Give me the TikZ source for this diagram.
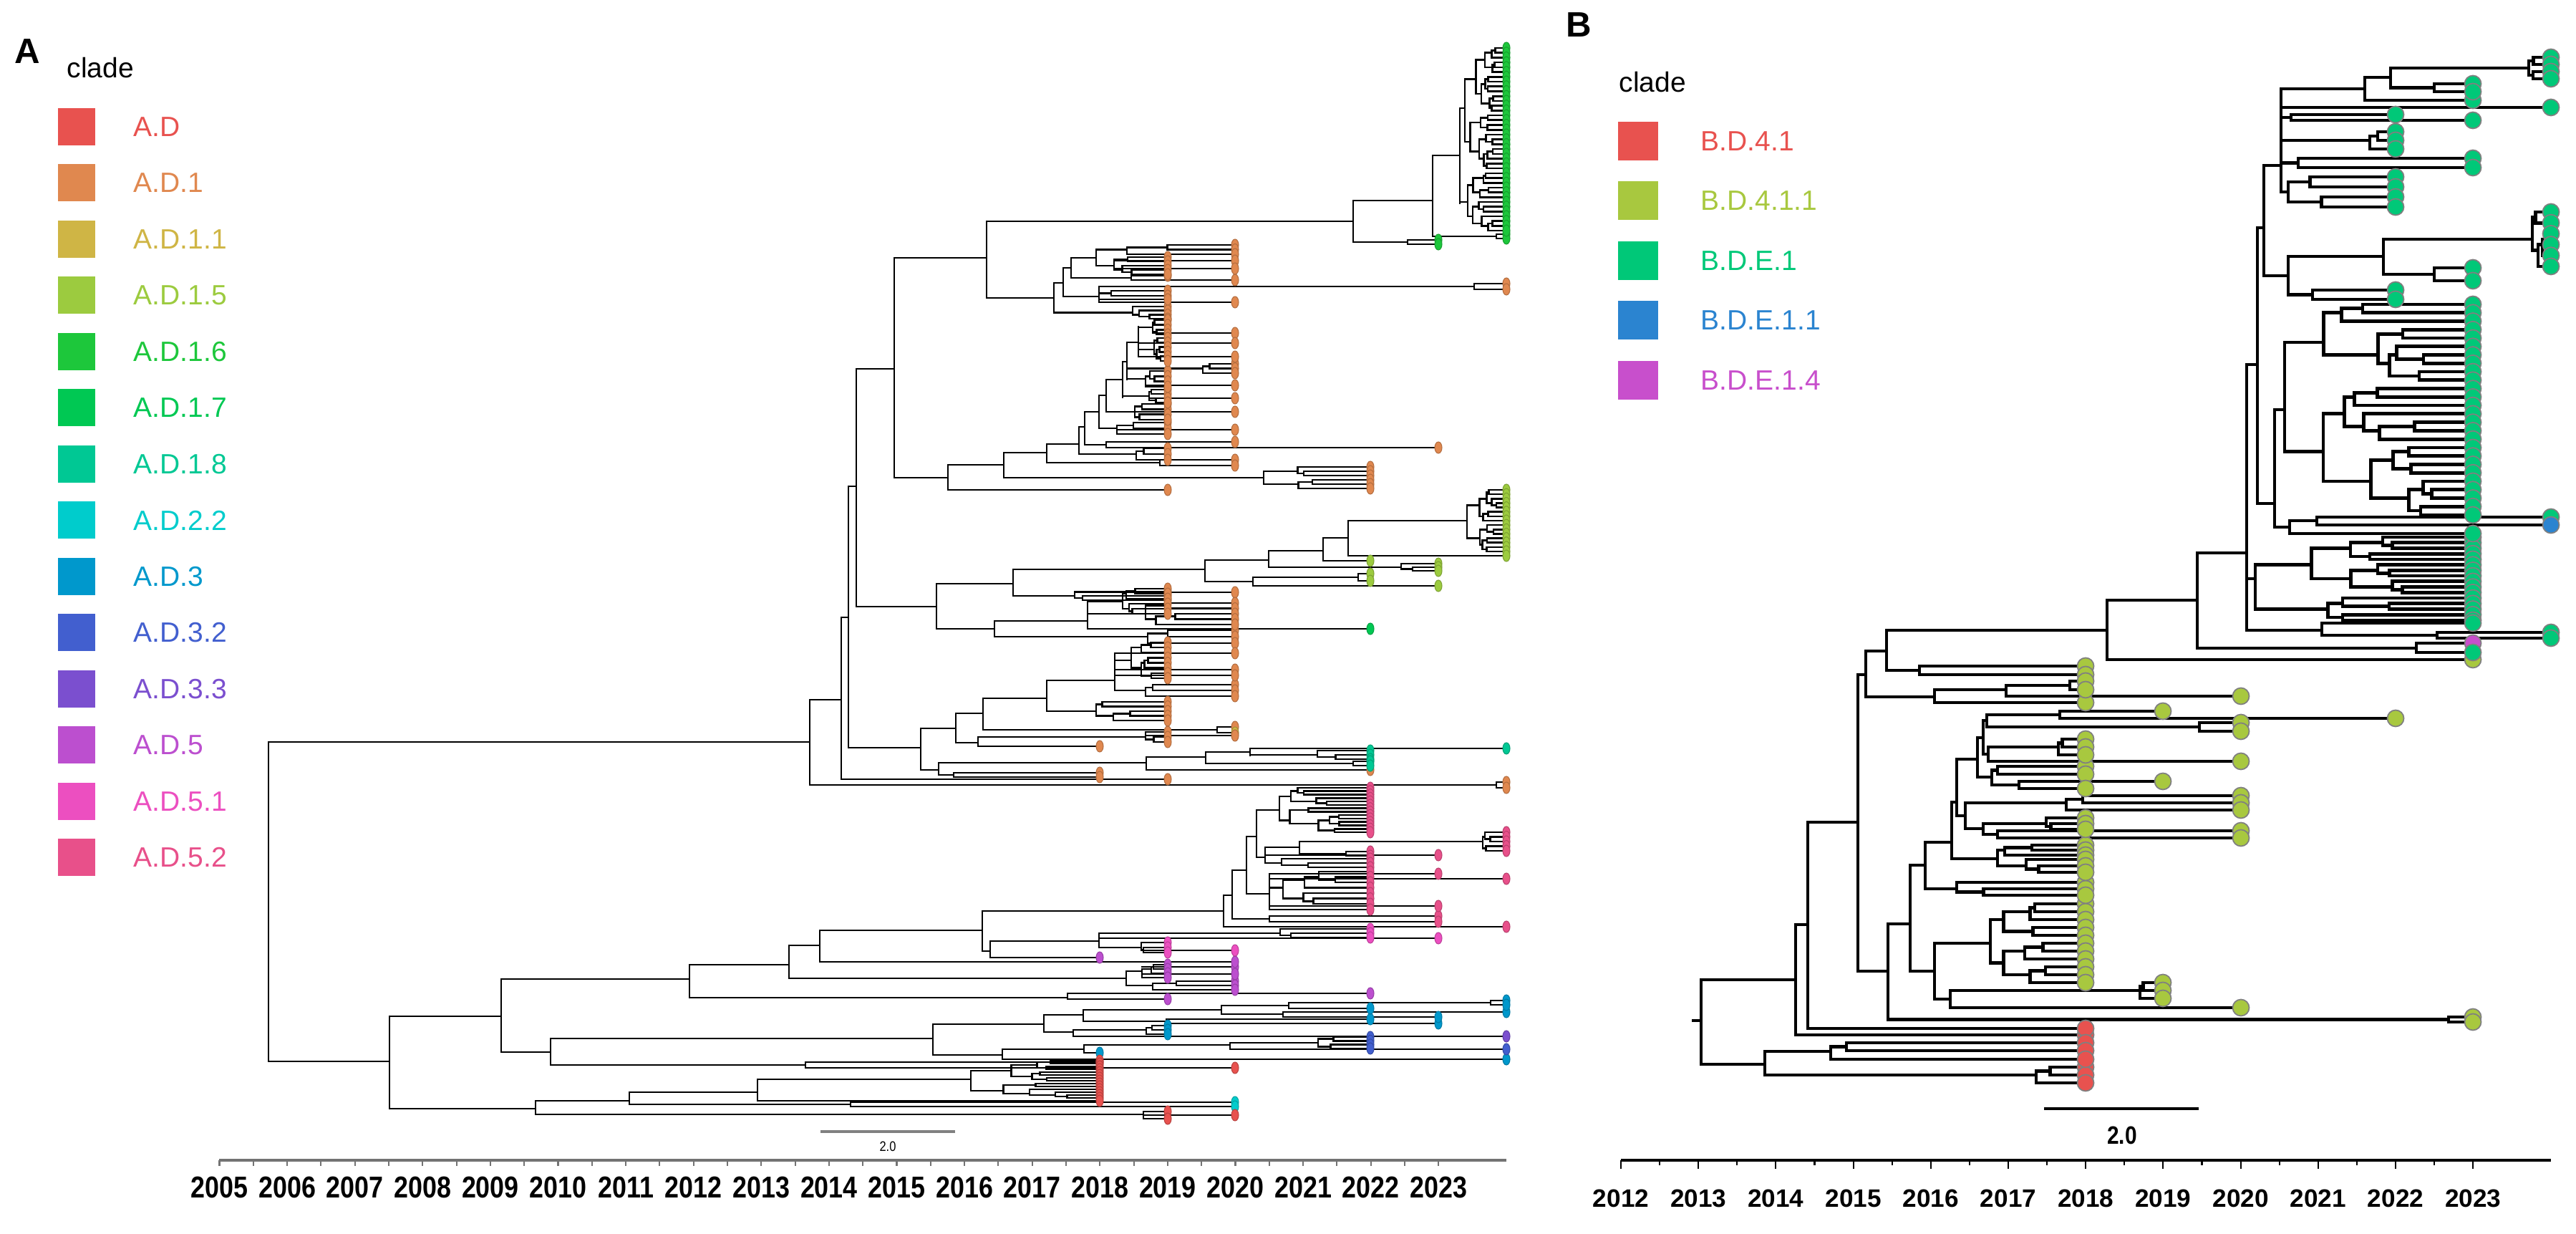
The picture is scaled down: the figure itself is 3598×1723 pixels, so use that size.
\documentclass[tikz,border=0pt]{standalone}
\usepackage{fontspec}
\setmainfont{Liberation Sans}
\newfontfamily\axfont{Liberation Sans}[FakeStretch=0.85]
\definecolor{cAD}{HTML}{E8524F}
\definecolor{cAD1}{HTML}{E0884F}
\definecolor{cAD11}{HTML}{CFB545}
\definecolor{cAD15}{HTML}{9CCB3F}
\definecolor{cAD16}{HTML}{1DC73B}
\definecolor{cAD17}{HTML}{00C853}
\definecolor{cAD18}{HTML}{00C894}
\definecolor{cAD22}{HTML}{00CCCC}
\definecolor{cAD3}{HTML}{0098CC}
\definecolor{cAD32}{HTML}{425FCF}
\definecolor{cAD33}{HTML}{7B4FCF}
\definecolor{cAD5}{HTML}{BC4FCF}
\definecolor{cAD51}{HTML}{EC4FC0}
\definecolor{cAD52}{HTML}{E8508A}
\definecolor{cB41}{HTML}{E8524F}
\definecolor{cB411}{HTML}{A8C83F}
\definecolor{cBE1}{HTML}{00C878}
\definecolor{cBE11}{HTML}{2B84D0}
\definecolor{cBE14}{HTML}{C84FCC}
\def\tiprx{0.5mm}\def\tipry{0.8mm}
\gdef\tiplist{}
\newcommand\tipD[3]{\path[tipd=#1] (#2,#3) ellipse [x radius=\tiprx, y radius=\tipry];}
\newcommand\tipdot[3]{\xdef\tiplist{\unexpanded\expandafter{\tiplist}\noexpand\tipD{#1}{#2}{#3}}}
\newcommand\flushtips{\tiplist\gdef\tiplist{}}
\newcommand\brV[3]{\draw[br] (#1,#2) -- (#1,#3);}
\newcommand\brH[3]{\draw[br] (#1,#3) -- (#2,#3);}
\newcommand\brT[4]{\draw[br] (#1,#3) -- (#2,#3);\tipdot{#4}{#2}{#3}}
\newcommand\bcrec[6]{%
  \ifnum#5<2\relax
    \draw[br] (#1,#3) -- (#2,#3);\tipdot{#6}{#2}{#3}%
  \else
    \begingroup
    \pgfmathtruncatemacro\bcna{max(1,min(#5-1,round(#5*(0.3+0.4*rnd))))}%
    \pgfmathtruncatemacro\bcnb{#5-\bcna}%
    \pgfmathsetmacro\bcsp{(#4-#3)/(#5-1)}%
    \pgfmathsetmacro\bcuyb{#3+(\bcna-1)*\bcsp}%
    \pgfmathsetmacro\bclya{#3+\bcna*\bcsp}%
    \pgfmathsetmacro\bccu{(#3+\bcuyb)/2}%
    \pgfmathsetmacro\bccl{(\bclya+#4)/2}%
    \pgfmathsetmacro\bcxu{(\bcna==1)?#1:(#1+(#2-#1)*(0.08+0.3*rnd))}%
    \pgfmathsetmacro\bcxl{(\bcnb==1)?#1:(#1+(#2-#1)*(0.08+0.3*rnd))}%
    \draw[br] (#1,\bccu) -- (#1,\bccl);%
    \draw[br] (#1,\bccu) -- (\bcxu,\bccu);%
    \draw[br] (#1,\bccl) -- (\bcxl,\bccl);%
    \edef\bcnext{\noexpand\bcrec{\bcxu}{#2}{#3}{\bcuyb}{\bcna}{#6}\noexpand\bcrec{\bcxl}{#2}{\bclya}{#4}{\bcnb}{#6}}%
    \expandafter\endgroup\bcnext
  \fi}
\newcommand\bc[7]{%
  \pgfmathsetmacro\bcmid{(#4+#5)/2}%
  \draw[br] (#1,\bcmid) -- (#2,\bcmid);%
  \bcrec{#2}{#3}{#4}{#5}{#6}{#7}}
\begin{document}
\begin{tikzpicture}[x=0.1mm,y=-0.1mm,
  lsq/.style={minimum width=5.2mm,minimum height=5.2mm,inner sep=0pt,draw=none},
  lab/.style={anchor=west,inner sep=0pt,font=\fontsize{11.1}{13}\selectfont},
  axA/.style={inner sep=0pt,font=\axfont\bfseries\fontsize{12}{14}\selectfont},
  axB/.style={inner sep=0pt,font=\bfseries\fontsize{10}{12}\selectfont}]
\useasboundingbox (0,0) rectangle (3598,1723);
\pgfmathsetseed{11}
% ---------------- panel labels and legends
\node[anchor=base west,inner sep=0pt,font=\bfseries\fontsize{14}{16}\selectfont] (pA) at (20,89) {A};
\node[anchor=base west,inner sep=0pt,font=\bfseries\fontsize{14}{16}\selectfont] (pB) at (2187,52) {B};
\node[anchor=base west,inner sep=0pt,font=\fontsize{11.1}{13}\selectfont] (cladeA) at (93,109) {clade};
\node[anchor=base west,inner sep=0pt,font=\fontsize{11.1}{13}\selectfont] (cladeB) at (2261,129) {clade};
\foreach \c/\t [count=\i from 0] in {cAD/A.D,cAD1/A.D.1,cAD11/A.D.1.1,cAD15/A.D.1.5,cAD16/A.D.1.6,cAD17/A.D.1.7,cAD18/A.D.1.8,cAD22/A.D.2.2,cAD3/A.D.3,cAD32/A.D.3.2,cAD33/A.D.3.3,cAD5/A.D.5,cAD51/A.D.5.1,cAD52/A.D.5.2}{
  \node[lsq,fill=\c] (sqa\i) at (107,{177+78.5*\i}) {};
  \node[lab,text=\c] (lba\i) at (186,{177+78.5*\i}) {\t};
}
\foreach \c/\t [count=\i from 0] in {cB41/B.D.4.1,cB411/B.D.4.1.1,cBE1/B.D.E.1,cBE11/B.D.E.1.1,cBE14/B.D.E.1.4}{
  \node[lsq,minimum width=5.6mm,minimum height=5.4mm,fill=\c] (sqb\i) at (2288,{197+83.5*\i}) {};
  \node[lab,text=\c] (lbb\i) at (2375,{197+83.5*\i}) {\t};
}
% ---------------- axes
\draw[black!55,line width=1.1pt] (306,1620) -- (2104,1620);
\foreach \k in {0,...,36} \draw[black!55,line width=0.6pt] ({306.5+47.3*\k},1620) -- ++(0,8);
\foreach \yr in {2005,...,2023} \node[axA] (ya\yr) at ({306.5+94.6*(\yr-2005)},1658) {\yr};
\draw[black,line width=1.2pt] (2264,1620) -- (3563,1620);
\foreach \k in {0,...,22}{\pgfmathsetmacro\tkl{ifthenelse(mod(\k,2)==0,12,7)}
  \draw[black,line width=0.6pt] ({2264+54.1*\k},1620) -- ++(0,\tkl);}
\foreach \yr in {2012,...,2023} \node[axB] (yb\yr) at ({2264+108.2*(\yr-2012)},1673) {\yr};
% scale bars
\draw[black!50,line width=1pt] (1146,1580) -- (1334,1580);
\node[inner sep=0pt,font=\axfont\fontsize{5.5}{6}\selectfont] (sbA) at (1240,1601) {2.0};
\draw[black,line width=1.1pt] (2855,1548) -- (3071,1548);
\node[inner sep=0pt,font=\axfont\bfseries\fontsize{10}{12}\selectfont] (sbB) at (2964,1585) {2.0};
% ================= TREE A
\begin{scope}[br/.style={line width=0.75pt,line cap=rect},
  tipd/.style={fill=#1,draw=#1!80!black,line width=0.3pt}]
\brV{375}{1036}{1482}\brH{375}{1131}{1036}\brH{375}{544}{1482}
\brV{1131}{977}{1096}\brH{1131}{1175}{977}\bc{1131}{2090}{2104}{1092}{1100}{2}{cAD1}
\brV{1175}{862}{1088}\brH{1175}{1185}{862}\brT{1175}{1631}{1088}{cAD1}
\brV{1185}{679}{1044}\brH{1185}{1196}{679}\brH{1185}{1286}{1044}
\brV{1196}{515}{847}\brH{1196}{1249}{515}\brH{1196}{1308}{847}
\brV{1249}{360}{667}\brH{1249}{1378}{360}\brH{1249}{1324}{667}
\brV{1378}{309}{416}\brH{1378}{1890}{309}\brH{1378}{1472}{416}
% green top clade
\brV{1890}{280}{338}\brH{1890}{2001}{280}\bc{1890}{1966}{2009}{335}{341}{2}{cAD16}
\brV{2001}{217}{330}\brH{2001}{2039}{217}\bc{2001}{2090}{2104}{327}{333}{2}{cAD16}
\brV{2039}{151}{284}
\bc{2039}{2046}{2104}{67}{235}{26}{cAD16}
\bc{2039}{2050}{2104}{242}{322}{13}{cAD16}
% orange O1
\brV{1472}{395}{437}\brH{1472}{1485}{395}\bc{1472}{1582}{1631}{428}{445}{4}{cAD1}
\brV{1485}{374}{414}\brH{1485}{1496}{374}\brH{1485}{1535}{414}
\brV{1496}{360}{388}\brH{1496}{1531}{360}\brH{1496}{1580}{388}
\brV{1580}{385}{391}\brT{1580}{1631}{385}{cAD1}\brT{1580}{1725}{391}{cAD1}
\brV{1531}{348}{371}
\bc{1531}{1574}{1725}{342}{355}{3}{cAD1}
\bc{1531}{1556}{1631}{359}{383}{5}{cAD1}
\brT{1556}{1725}{364}{cAD1}\brT{1556}{1725}{375}{cAD1}
\brV{1535}{400}{422}
\bc{1535}{2059}{2104}{396}{404}{2}{cAD1}
\bc{1535}{1552}{1631}{406}{413}{2}{cAD1}
\brT{1535}{1631}{418}{cAD1}\brT{1535}{1725}{422}{cAD1}
% N10 .. chain
\brV{1324}{649}{684}\brH{1324}{1402}{649}\brT{1324}{1631}{684}{cAD1}
\brV{1402}{632}{667}\brH{1402}{1462}{632}\bc{1402}{1765}{1914}{652}{682}{6}{cAD1}
\brV{1462}{620}{646}\brH{1462}{1507}{620}\bc{1462}{1620}{1725}{642}{650}{2}{cAD1}
\brV{1507}{596}{634}\brH{1507}{1515}{596}\bc{1507}{1587}{1631}{626}{642}{3}{cAD1}
\brV{1515}{575}{621}\brH{1515}{1535}{575}\brH{1515}{1545}{621}
\brV{1545}{617}{625}\brT{1545}{1725}{617}{cAD1}\brT{1545}{2009}{625}{cAD1}
\brV{1535}{552}{598}\brH{1535}{1545}{552}\bc{1535}{1560}{1631}{590}{606}{3}{cAD1}\brT{1560}{1725}{600}{cAD1}
\brV{1545}{530}{575}\brH{1545}{1568}{530}\bc{1545}{1585}{1631}{564}{586}{4}{cAD1}\brT{1585}{1725}{575}{cAD1}
\brV{1568}{505}{555}\brH{1568}{1574}{505}\bc{1568}{1605}{1631}{544}{562}{4}{cAD1}\brT{1605}{1725}{556}{cAD1}
\brV{1574}{478}{530}\brH{1574}{1590}{478}\bc{1574}{1600}{1631}{518}{540}{4}{cAD1}\brT{1600}{1725}{538}{cAD1}
\bc{1574}{1680}{1725}{508}{521}{3}{cAD1}
\brV{1590}{456}{496}\bc{1590}{1610}{1631}{447}{467}{4}{cAD1}\brT{1610}{1725}{465}{cAD1}
\bc{1590}{1612}{1631}{472}{504}{6}{cAD1}\brT{1590}{1725}{479}{cAD1}\brT{1590}{1725}{498}{cAD1}
% N8
\brV{1308}{815}{878}\brH{1308}{1415}{815}\brH{1308}{1389}{878}
\brV{1415}{795}{832}\brH{1415}{1683}{795}\bc{1415}{1501}{1631}{826}{838}{3}{cAD1}\brT{1501}{1725}{827}{cAD1}
\brV{1683}{782}{812}\brH{1683}{1772}{782}\brH{1683}{1750}{812}
\brV{1750}{806}{818}\bc{1750}{1897}{1914}{801}{811}{2}{cAD15}\brT{1750}{2009}{818}{cAD15}
\brV{1772}{769}{792}\brH{1772}{1848}{769}\bc{1772}{1957}{2009}{787}{797}{3}{cAD15}
\brV{1848}{751}{783}\brH{1848}{1883}{751}\brT{1848}{1914}{783}{cAD15}
\brV{1883}{727}{776}\bc{1883}{2049}{2104}{684}{770}{15}{cAD15}\brT{1883}{2104}{776}{cAD15}
\brV{1389}{867}{889}\brH{1389}{1519}{867}\bc{1389}{1603}{1725}{880}{898}{3}{cAD1}
\brV{1519}{840}{878}\bc{1519}{1568}{1631}{822}{857}{6}{cAD1}\bc{1519}{1600}{1725}{842}{872}{5}{cAD1}
\brT{1519}{1914}{878}{cAD17}
% N6
\brV{1286}{1017}{1075}\brH{1286}{1335}{1017}\brH{1286}{1311}{1075}
\brV{1335}{996}{1037}\brH{1335}{1373}{996}\brH{1335}{1366}{1037}
\brV{1373}{975}{1019}\brH{1373}{1462}{975}\brH{1373}{1700}{1019}
\brV{1700}{1015}{1023}\brT{1700}{1725}{1015}{cAD1}\brT{1700}{1725}{1023}{cAD11}
\brV{1462}{950}{993}\brH{1462}{1557}{950}\bc{1462}{1531}{1631}{980}{1006}{5}{cAD1}
\brV{1557}{912}{964}\bc{1557}{1580}{1631}{897}{947}{8}{cAD1}\bc{1557}{1600}{1725}{956}{972}{3}{cAD1}
\brT{1557}{1725}{912}{cAD1}\brT{1557}{1725}{935}{cAD1}\brT{1557}{1725}{943}{cAD1}
\brV{1366}{1029}{1042}\bc{1366}{1600}{1631}{1022}{1036}{3}{cAD1}\brT{1600}{1725}{1027}{cAD1}\brT{1366}{1536}{1042}{cAD1}
\brV{1311}{1065}{1082}\brH{1311}{1601}{1065}\bc{1311}{1332}{1536}{1079}{1085}{2}{cAD1}
\brV{1601}{1057}{1075}\brH{1601}{1684}{1057}\brT{1601}{1914}{1075}{cAD1}
\brV{1684}{1050}{1066}\brH{1684}{1746}{1050}
\brV{1746}{1045}{1055}\brT{1746}{2104}{1045}{cAD18}\bc{1746}{1840}{1914}{1048}{1060}{3}{cAD18}
\bc{1684}{1890}{1914}{1063}{1069}{2}{cAD18}
% lower part N2
\brV{544}{1419}{1548}\brH{544}{700}{1419}\brH{544}{748}{1548}
\brV{700}{1367}{1469}\brH{700}{963}{1367}\brH{700}{769}{1469}
\brV{963}{1347}{1393}\brH{963}{1102}{1347}\brH{963}{1491}{1393}
\brV{1102}{1320}{1366}\brH{1102}{1145}{1320}\brH{1102}{1573}{1366}
\brV{1573}{1356}{1376}\bc{1573}{1595}{1631}{1347}{1365}{4}{cAD5}\bc{1573}{1610}{1725}{1370}{1382}{3}{cAD5}
\brT{1595}{1725}{1350}{cAD5}\brT{1595}{1725}{1360}{cAD5}
\brV{1145}{1299}{1343}\brH{1145}{1372}{1299}\brT{1145}{1725}{1343}{cAD5}
\brV{1491}{1387}{1395}\brT{1491}{1914}{1387}{cAD5}\brT{1491}{1631}{1395}{cAD5}
\brV{769}{1450}{1487}\brH{769}{1303}{1450}\brH{769}{1125}{1487}
\brV{1125}{1483}{1491}\brT{1125}{1536}{1483}{cAD}\brT{1125}{1725}{1491}{cAD}
\brV{1303}{1430}{1473}\brH{1303}{1458}{1430}\brH{1303}{1400}{1473}
\brV{1458}{1417}{1441}\brH{1458}{1513}{1417}\brH{1458}{1499}{1441}
\brV{1499}{1438}{1447}\bc{1499}{1601}{1631}{1432}{1444}{3}{cAD3}\brT{1499}{2104}{1447}{cAD33}
\brV{1513}{1410}{1426}\brH{1513}{1706}{1410}\brH{1513}{1629}{1426}
\brV{1629}{1423}{1429}\brT{1629}{1914}{1423}{cAD3}\brT{1629}{2009}{1429}{cAD3}
\brV{1706}{1404}{1416}\brH{1706}{1800}{1404}\brH{1706}{1792}{1416}
\brV{1792}{1413}{1420}\brT{1792}{2104}{1413}{cAD3}\brT{1792}{2009}{1420}{cAD3}
\brV{1800}{1400}{1408}\bc{1800}{2082}{2104}{1397}{1403}{2}{cAD3}\brT{1800}{1914}{1408}{cAD3}
\brV{1400}{1465}{1479}\brH{1400}{1514}{1465}\brT{1400}{2104}{1479}{cAD3}
\brV{1514}{1459}{1470}\brH{1514}{1718}{1459}\brT{1514}{1536}{1470}{cAD3}
\brV{1718}{1456}{1465}\bc{1718}{1841}{1914}{1448}{1464}{4}{cAD32}\brT{1718}{2104}{1465}{cAD32}
\brV{748}{1537}{1556}\brH{748}{879}{1537}\brH{748}{1597}{1556}
\brV{879}{1525}{1542}\brH{879}{1058}{1525}\bc{879}{1188}{1725}{1539}{1545}{2}{cAD22}
\brV{1058}{1507}{1537}\bc{1058}{1356}{1536}{1481}{1533}{14}{cAD}\brT{1058}{1536}{1537}{cAD}
\brV{1597}{1552}{1562}\brT{1597}{1631}{1552}{cAD}\brT{1597}{1725}{1557}{cAD}\brT{1597}{1631}{1562}{cAD}
% pink clade
\brV{1372}{1272}{1328}\brH{1372}{1709}{1272}\brH{1372}{1383}{1328}
\brV{1709}{1250}{1294}\brH{1709}{1721}{1250}\brT{1709}{2104}{1294}{cAD52}
\brV{1721}{1215}{1283}\brH{1721}{1741}{1215}\bc{1721}{1773}{2009}{1279}{1287}{2}{cAD52}
\brV{1741}{1168}{1248}\brH{1741}{1755}{1168}\brH{1741}{1773}{1248}
\brV{1755}{1131}{1197}\bc{1755}{1787}{1914}{1100}{1162}{14}{cAD52}\brH{1755}{1767}{1197}
\brV{1767}{1183}{1205}\brH{1767}{1815}{1183}\brT{1767}{2009}{1194}{cAD52}
\brV{1815}{1175}{1192}\bc{1815}{2071}{2104}{1162}{1188}{5}{cAD52}\bc{1815}{1880}{1914}{1189}{1195}{2}{cAD52}
\bc{1767}{1790}{1914}{1199}{1211}{3}{cAD52}
\brV{1773}{1220}{1270}\bc{1773}{1792}{1914}{1217}{1262}{7}{cAD52}
\brT{1773}{2009}{1220}{cAD52}\brT{1773}{2104}{1227}{cAD52}\brT{1773}{2009}{1265}{cAD52}\brT{1773}{1914}{1270}{cAD52}
\brV{1383}{1314}{1337}\brH{1383}{1535}{1314}\brT{1383}{1536}{1337}{cAD5}
\brV{1535}{1303}{1323}\bc{1535}{1788}{1914}{1297}{1309}{3}{cAD51}\bc{1535}{1594}{1631}{1316}{1330}{3}{cAD51}
\brT{1594}{1725}{1327}{cAD51}\brT{1535}{2009}{1310}{cAD51}
\flushtips
\end{scope}
% ================= TREE B
\def\tiprx{1.15mm}\def\tipry{1.15mm}
\begin{scope}[br/.style={line width=1.35pt,line cap=rect},
  tipd/.style={fill=#1,draw=black!50,line width=0.5pt}]
\brH{2365}{2376}{1425}
\brV{2376}{1368}{1486}\brH{2376}{2508}{1368}\brH{2376}{2465}{1486}
\brV{2508}{1291}{1445}\brH{2508}{2525}{1291}\brT{2508}{2913}{1445}{cB41}
\brV{2525}{1148}{1436}\brH{2525}{2595}{1148}\brT{2525}{2913}{1436}{cB41}
\brV{2465}{1468}{1501}\brH{2465}{2557}{1468}\bc{2465}{2844}{2913}{1490}{1512}{3}{cB41}
\brV{2557}{1461}{1479}\bc{2557}{2579}{2913}{1456}{1467}{2}{cB41}\brT{2557}{2913}{1479}{cB41}
\brV{2595}{942}{1356}\brH{2595}{2606}{942}\brH{2595}{2637}{1356}
\brV{2606}{909}{973}\brH{2606}{2635}{909}\brH{2606}{2702}{973}
\brV{2635}{880}{936}\brH{2635}{2943}{880}\bc{2635}{2681}{2913}{930}{942}{2}{cB411}
\brV{2702}{963}{981}\brH{2702}{2802}{963}\brT{2702}{2913}{981}{cB411}
\brV{2802}{957}{972}\bc{2802}{2891}{2913}{951}{963}{2}{cB411}\brT{2802}{3130}{972}{cB411}
\brV{2637}{1290}{1424}\brH{2637}{2668}{1290}\bc{2637}{3420}{3454}{1420}{1427}{2}{cB411}
\brV{2668}{1208}{1356}\brH{2668}{2689}{1208}\brH{2668}{2702}{1356}
\brV{2702}{1317}{1395}\bc{2702}{2780}{2913}{1262}{1372}{11}{cB411}\brH{2702}{2724}{1395}
\brV{2724}{1383}{1407}\bc{2724}{2989}{3021}{1372}{1394}{3}{cB411}\brT{2724}{3130}{1407}{cB411}
\brV{2689}{1176}{1241}\brH{2689}{2726}{1176}\bc{2689}{2733}{2913}{1232}{1250}{3}{cB411}
\brV{2726}{1120}{1199}\brH{2726}{2733}{1120}\brH{2726}{2790}{1199}
\brV{2790}{1187}{1209}\bc{2790}{2800}{2913}{1180}{1194}{3}{cB411}\bc{2790}{2830}{2913}{1200}{1218}{3}{cB411}
\brV{2733}{1060}{1139}\brH{2733}{2762}{1060}\brH{2733}{2745}{1139}
\brV{2745}{1121}{1157}\bc{2745}{2886}{3130}{1111}{1131}{3}{cB411}\brH{2745}{2770}{1157}
\brV{2770}{1150}{1165}\bc{2770}{2858}{2913}{1142}{1158}{3}{cB411}\bc{2770}{2790}{3130}{1160}{1170}{2}{cB411}
\brV{2762}{1030}{1085}\brH{2762}{2770}{1030}\brH{2762}{2782}{1085}
\brV{2782}{1075}{1096}\bc{2782}{2790}{2913}{1070}{1081}{2}{cB411}\brH{2782}{2820}{1096}
\brV{2820}{1091}{1101}\brT{2820}{3021}{1091}{cB411}\brT{2820}{2913}{1101}{cB411}
\brV{2770}{1006}{1053}\brH{2770}{2775}{1006}\brH{2770}{2777}{1053}
\brV{2775}{998}{1015}\brH{2775}{2877}{998}\bc{2775}{3072}{3130}{1009}{1021}{2}{cB411}
\brV{2877}{993}{1003}\brT{2877}{3021}{993}{cB411}\brT{2877}{3346}{1003}{cB411}
\brV{2777}{1043}{1063}\bc{2777}{2875}{2913}{1032}{1054}{3}{cB411}\brT{2777}{3130}{1063}{cB411}
% E clade
\brV{2943}{838}{921}\brH{2943}{3069}{838}\brT{2943}{3454}{921}{cB411}
\brV{3069}{772}{905}\brH{3069}{3138}{772}\brH{3069}{3375}{905}
\brV{3375}{898}{911}\brT{3375}{3454}{898}{cBE14}\brT{3375}{3454}{911}{cBE1}
\brV{3138}{509}{880}\brH{3138}{3153}{509}\bc{3138}{3150}{3454}{750}{866}{16}{cBE1}\brH{3138}{3243}{880}
\brV{3243}{870}{887}\brT{3243}{3454}{870}{cBE1}\bc{3243}{3404}{3563}{883}{891}{2}{cBE1}
\brV{3153}{318}{703}\brH{3153}{3162}{318}\brH{3153}{3177}{703}
\brV{3162}{231}{385}\brH{3162}{3186}{231}\brH{3162}{3196}{385}
\brV{3186}{124}{268}\brH{3186}{3303}{124}\brT{3186}{3563}{150}{cBE1}\brH{3186}{3200}{164}
\brV{3200}{160}{168}\brT{3200}{3346}{160}{cBE1}\brT{3200}{3454}{168}{cBE1}
\bc{3186}{3310}{3346}{184}{208}{3}{cBE1}\bc{3186}{3210}{3454}{221}{234}{2}{cBE1}\bc{3186}{3196}{3346}{247}{289}{4}{cBE1}
\brV{3303}{108}{140}\brH{3303}{3339}{108}\brT{3303}{3454}{140}{cBE1}
\brV{3339}{95}{122}\bc{3339}{3532}{3563}{80}{110}{4}{cBE1}\bc{3339}{3400}{3454}{117}{128}{2}{cBE1}
\brV{3196}{358}{411}\brH{3196}{3329}{358}\bc{3196}{3230}{3346}{405}{418}{2}{cBE1}
\brV{3329}{334}{383}\bc{3329}{3537}{3563}{296}{372}{6}{cBE1}\bc{3329}{3400}{3454}{374}{392}{2}{cBE1}
\brV{3177}{572}{736}\bc{3177}{3191}{3454}{425}{719}{26}{cBE1}\brH{3177}{3198}{736}
\brV{3198}{727}{745}\brH{3198}{3236}{727}\brT{3198}{3454}{745}{cBE1}
\brV{3236}{722}{733}\brT{3236}{3563}{722}{cBE1}\brT{3236}{3563}{733}{cBE11}
\flushtips
\end{scope}
\end{tikzpicture}
\end{document}
